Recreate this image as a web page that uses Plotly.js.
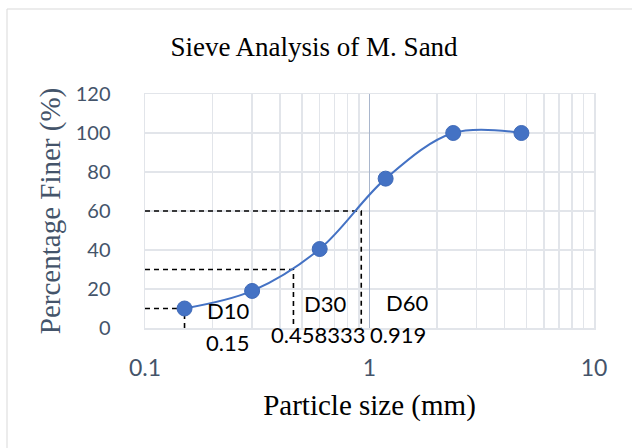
<!DOCTYPE html>
<html>
<head>
<meta charset="utf-8">
<script src="https://cdn.plot.ly/plotly-3.0.1.min.js"></script>
<style>
html,body{margin:0;padding:0;background:#fff;}
#chart{width:632px;height:448px;}
</style>
</head>
<body>
<div id="chart"></div>
<script>
// Sieve data
var sieveSize = [0.15, 0.3, 0.6, 1.18, 2.36, 4.75];
var percentFiner = [10, 19, 40.5, 76.6, 100, 100];

// Characteristic diameters
var dNames = ['D10', 'D30', 'D60'];
var dPercent = [10, 30, 60];
var dSize = [0.15, 0.458333, 0.919];
var dLabels = ['0.15', '0.458333', '0.919'];

// Axis ticks
var xTickVals = [0.1, 1, 10];
var xTickText = ['0.1', '1', '10'];
var yTickVals = [0, 20, 40, 60, 80, 100, 120];

var blue = '#4472C4';
var slate = '#44546A';
var gridColor = '#E2E5EA';

var traces = [];
// dashed guide lines for D10/D30/D60
for (var i = 0; i < dNames.length; i++) {
  traces.push({
    type: 'scatter', mode: 'lines',
    x: [xTickVals[0], dSize[i], dSize[i]],
    y: [dPercent[i], dPercent[i], yTickVals[0]],
    line: {color: '#000000', width: 1.6, dash: '5px,4px'},
    hoverinfo: 'skip', showlegend: false, cliponaxis: false
  });
}
// vertical axis crossing at x = 1
traces.push({
  type: 'scatter', mode: 'lines',
  x: [xTickVals[1], xTickVals[1]],
  y: [yTickVals[0], yTickVals[yTickVals.length - 1]],
  line: {color: '#A9B6CC', width: 1},
  hoverinfo: 'skip', showlegend: false
});
// main curve
traces.push({
  type: 'scatter', mode: 'lines+markers',
  x: sieveSize, y: percentFiner,
  line: {color: blue, width: 2, shape: 'spline', smoothing: 1},
  marker: {color: blue, size: 15, line: {color: '#3F6AB8', width: 1}},
  showlegend: false
});

// data labels (name above, value below), offset to the right of each foot point
var nameShift = [[43, 18], [32, 25], [46, 26]];
var valShift = [[43, -14], [25, -6], [37, -6]];
var annotations = [];
for (var j = 0; j < dNames.length; j++) {
  annotations.push({
    x: Math.log10(dSize[j]), y: 0, xref: 'x', yref: 'y',
    text: dNames[j], showarrow: false,
    xanchor: 'center', yanchor: 'middle',
    xshift: nameShift[j][0], yshift: nameShift[j][1],
    font: {family: 'Lato, sans-serif', size: 22, color: '#000000'}
  });
  annotations.push({
    x: Math.log10(dSize[j]), y: 0, xref: 'x', yref: 'y',
    text: dLabels[j], showarrow: false,
    xanchor: 'center', yanchor: 'middle',
    xshift: valShift[j][0], yshift: valShift[j][1],
    font: {family: 'Lato, sans-serif', size: 22, color: '#000000'}
  });
}

var layout = {
  width: 632, height: 448,
  margin: {l: 145, r: 38, t: 94, b: 120, pad: 0},
  paper_bgcolor: '#ffffff', plot_bgcolor: '#ffffff',
  showlegend: false,
  title: {
    text: 'Sieve Analysis of M. Sand',
    font: {family: '"Liberation Serif", serif', size: 27, color: '#000000'},
    x: 314 / 632, xref: 'container', xanchor: 'center',
    y: 1 - 47 / 448, yref: 'container', yanchor: 'middle'
  },
  xaxis: {
    type: 'log', range: [-1, 1],
    tickvals: xTickVals, ticktext: xTickText,
    tickfont: {family: 'Lato, sans-serif', size: 23, color: slate},
    ticks: '', ticklabelstandoff: 19,
    showgrid: true, gridcolor: gridColor, gridwidth: 1.5,
    minor: {showgrid: true, gridcolor: gridColor, gridwidth: 1.5, dtick: 'D1'},
    zeroline: false, showline: true, mirror: true, linecolor: gridColor, linewidth: 1.5,
    title: {
      text: 'Particle size (mm)', standoff: 14,
      font: {family: '"Liberation Serif", serif', size: 29, color: '#000000'}
    }
  },
  yaxis: {
    range: [0, 120], tickvals: yTickVals,
    tickfont: {family: 'Lato, sans-serif', size: 20, color: slate},
    ticks: '', ticklabelstandoff: 29,
    showgrid: true, gridcolor: gridColor, gridwidth: 1.5,
    zeroline: false, showline: true, mirror: true, linecolor: gridColor, linewidth: 1.5,
    title: {
      text: 'Percentage Finer (%)', standoff: 6,
      font: {family: '"Liberation Serif", serif', size: 29, color: slate}
    }
  },
  annotations: annotations,
  shapes: [{
    type: 'rect', xref: 'paper', yref: 'paper',
    x0: (7 - 145) / 449, x1: (650 - 145) / 449,
    y0: (328 - 470) / 234, y1: (328 - 9) / 234,
    line: {color: '#D9D9D9', width: 1}, fillcolor: 'rgba(0,0,0,0)', layer: 'below'
  }]
};

Plotly.newPlot('chart', traces, layout, {displayModeBar: false, staticPlot: true});
</script>
</body>
</html>
